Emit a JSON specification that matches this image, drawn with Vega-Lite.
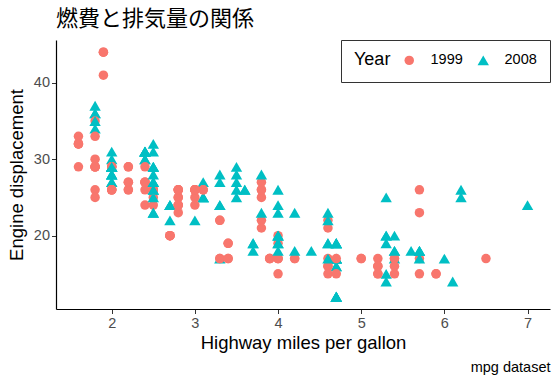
{
"$schema": "https://vega.github.io/schema/vega-lite/v6.json",
"width": 494, "height": 269,
"autosize": "none",
"padding": {"left": 56, "top": 40, "right": 9, "bottom": 76},
"background": "white",
"title": {"text": "燃費と排気量の関係", "anchor": "start", "frame": "group", "font": "Noto Sans CJK JP", "fontSize": 22, "fontWeight": "normal", "color": "#000000", "offset": 9},
"data": {"values": [
{"displ":1.8,"hwy":29,"year":1999},{"displ":1.8,"hwy":29,"year":1999},{"displ":2.0,"hwy":31,"year":2008},{"displ":2.0,"hwy":30,"year":2008},{"displ":2.8,"hwy":26,"year":1999},{"displ":2.8,"hwy":26,"year":1999},{"displ":3.1,"hwy":27,"year":2008},{"displ":1.8,"hwy":26,"year":1999},{"displ":1.8,"hwy":25,"year":1999},{"displ":2.0,"hwy":28,"year":2008},{"displ":2.0,"hwy":27,"year":2008},{"displ":2.8,"hwy":25,"year":1999},{"displ":2.8,"hwy":25,"year":1999},{"displ":3.1,"hwy":25,"year":2008},{"displ":3.1,"hwy":25,"year":2008},{"displ":2.8,"hwy":24,"year":1999},{"displ":3.1,"hwy":25,"year":2008},{"displ":4.2,"hwy":23,"year":2008},
{"displ":5.3,"hwy":20,"year":2008},{"displ":5.3,"hwy":15,"year":2008},{"displ":5.3,"hwy":20,"year":2008},{"displ":5.7,"hwy":17,"year":1999},{"displ":6.0,"hwy":17,"year":2008},{"displ":5.7,"hwy":26,"year":1999},{"displ":5.7,"hwy":23,"year":1999},{"displ":6.2,"hwy":26,"year":2008},{"displ":6.2,"hwy":25,"year":2008},{"displ":7.0,"hwy":24,"year":2008},{"displ":5.3,"hwy":19,"year":2008},{"displ":5.3,"hwy":14,"year":2008},{"displ":5.7,"hwy":15,"year":1999},{"displ":6.5,"hwy":17,"year":1999},{"displ":2.4,"hwy":27,"year":1999},{"displ":2.4,"hwy":30,"year":2008},{"displ":3.1,"hwy":26,"year":1999},{"displ":3.5,"hwy":29,"year":2008},{"displ":3.6,"hwy":26,"year":2008},
{"displ":2.4,"hwy":24,"year":1999},{"displ":3.0,"hwy":24,"year":1999},{"displ":3.3,"hwy":22,"year":1999},{"displ":3.3,"hwy":22,"year":1999},{"displ":3.3,"hwy":24,"year":2008},{"displ":3.3,"hwy":24,"year":2008},{"displ":3.3,"hwy":17,"year":2008},{"displ":3.8,"hwy":22,"year":1999},{"displ":3.8,"hwy":21,"year":1999},{"displ":3.8,"hwy":23,"year":2008},{"displ":4.0,"hwy":23,"year":2008},
{"displ":3.7,"hwy":19,"year":2008},{"displ":3.7,"hwy":18,"year":2008},{"displ":3.9,"hwy":17,"year":1999},{"displ":3.9,"hwy":17,"year":1999},{"displ":4.7,"hwy":19,"year":2008},{"displ":4.7,"hwy":19,"year":2008},{"displ":4.7,"hwy":12,"year":2008},{"displ":5.2,"hwy":17,"year":1999},{"displ":5.2,"hwy":15,"year":1999},
{"displ":3.9,"hwy":17,"year":1999},{"displ":4.7,"hwy":17,"year":2008},{"displ":4.7,"hwy":12,"year":2008},{"displ":4.7,"hwy":17,"year":2008},{"displ":5.2,"hwy":16,"year":1999},{"displ":5.7,"hwy":18,"year":2008},{"displ":5.9,"hwy":15,"year":1999},
{"displ":4.7,"hwy":16,"year":2008},{"displ":4.7,"hwy":12,"year":2008},{"displ":4.7,"hwy":17,"year":2008},{"displ":4.7,"hwy":17,"year":2008},{"displ":4.7,"hwy":16,"year":2008},{"displ":4.7,"hwy":12,"year":2008},{"displ":5.2,"hwy":15,"year":1999},{"displ":5.2,"hwy":16,"year":1999},{"displ":5.7,"hwy":17,"year":2008},{"displ":5.9,"hwy":15,"year":1999},
{"displ":4.6,"hwy":17,"year":1999},{"displ":5.4,"hwy":17,"year":1999},{"displ":5.4,"hwy":18,"year":2008},
{"displ":4.0,"hwy":17,"year":1999},{"displ":4.0,"hwy":19,"year":1999},{"displ":4.0,"hwy":17,"year":1999},{"displ":4.0,"hwy":19,"year":2008},{"displ":4.6,"hwy":19,"year":2008},{"displ":5.0,"hwy":17,"year":1999},
{"displ":4.2,"hwy":17,"year":1999},{"displ":4.2,"hwy":17,"year":1999},{"displ":4.6,"hwy":16,"year":1999},{"displ":4.6,"hwy":16,"year":1999},{"displ":4.6,"hwy":17,"year":2008},{"displ":5.4,"hwy":15,"year":1999},{"displ":5.4,"hwy":17,"year":2008},
{"displ":3.8,"hwy":26,"year":1999},{"displ":3.8,"hwy":25,"year":1999},{"displ":4.0,"hwy":26,"year":2008},{"displ":4.0,"hwy":24,"year":2008},{"displ":4.6,"hwy":21,"year":1999},{"displ":4.6,"hwy":22,"year":1999},{"displ":4.6,"hwy":23,"year":2008},{"displ":4.6,"hwy":22,"year":2008},{"displ":5.4,"hwy":20,"year":2008},
{"displ":1.6,"hwy":33,"year":1999},{"displ":1.6,"hwy":32,"year":1999},{"displ":1.6,"hwy":32,"year":1999},{"displ":1.6,"hwy":29,"year":1999},{"displ":1.6,"hwy":32,"year":1999},{"displ":1.8,"hwy":34,"year":2008},{"displ":1.8,"hwy":36,"year":2008},{"displ":1.8,"hwy":36,"year":2008},{"displ":2.0,"hwy":29,"year":2008},
{"displ":2.4,"hwy":26,"year":1999},{"displ":2.4,"hwy":27,"year":1999},{"displ":2.4,"hwy":30,"year":2008},{"displ":2.4,"hwy":31,"year":2008},{"displ":2.5,"hwy":26,"year":1999},{"displ":2.5,"hwy":26,"year":1999},{"displ":3.3,"hwy":28,"year":2008},{"displ":2.0,"hwy":26,"year":1999},{"displ":2.0,"hwy":29,"year":1999},{"displ":2.0,"hwy":28,"year":2008},{"displ":2.0,"hwy":27,"year":2008},{"displ":2.7,"hwy":24,"year":2008},{"displ":2.7,"hwy":24,"year":2008},{"displ":2.7,"hwy":24,"year":2008},
{"displ":3.0,"hwy":22,"year":2008},{"displ":3.7,"hwy":19,"year":2008},{"displ":4.0,"hwy":20,"year":1999},{"displ":4.7,"hwy":17,"year":1999},{"displ":4.7,"hwy":12,"year":2008},{"displ":4.7,"hwy":19,"year":2008},{"displ":5.7,"hwy":18,"year":2008},{"displ":6.1,"hwy":14,"year":2008},
{"displ":4.0,"hwy":15,"year":1999},{"displ":4.2,"hwy":18,"year":2008},{"displ":4.4,"hwy":18,"year":2008},{"displ":4.6,"hwy":15,"year":1999},
{"displ":5.4,"hwy":17,"year":1999},{"displ":5.4,"hwy":16,"year":1999},{"displ":5.4,"hwy":18,"year":2008},
{"displ":4.0,"hwy":17,"year":1999},{"displ":4.0,"hwy":19,"year":2008},{"displ":4.6,"hwy":19,"year":2008},{"displ":5.0,"hwy":17,"year":1999},
{"displ":2.4,"hwy":29,"year":1999},{"displ":2.4,"hwy":27,"year":1999},{"displ":2.5,"hwy":31,"year":2008},{"displ":2.5,"hwy":32,"year":2008},{"displ":3.5,"hwy":27,"year":2008},{"displ":3.5,"hwy":26,"year":2008},{"displ":3.0,"hwy":26,"year":1999},{"displ":3.0,"hwy":25,"year":1999},{"displ":3.5,"hwy":25,"year":2008},{"displ":3.3,"hwy":17,"year":1999},{"displ":3.3,"hwy":17,"year":1999},{"displ":4.0,"hwy":20,"year":2008},{"displ":5.6,"hwy":18,"year":2008},
{"displ":3.1,"hwy":26,"year":1999},{"displ":3.8,"hwy":26,"year":1999},{"displ":3.8,"hwy":27,"year":1999},{"displ":3.8,"hwy":28,"year":2008},{"displ":5.3,"hwy":25,"year":2008},
{"displ":2.5,"hwy":25,"year":1999},{"displ":2.5,"hwy":24,"year":1999},{"displ":2.5,"hwy":27,"year":2008},{"displ":2.5,"hwy":25,"year":2008},{"displ":2.5,"hwy":26,"year":2008},{"displ":2.5,"hwy":23,"year":2008},{"displ":2.2,"hwy":26,"year":1999},{"displ":2.2,"hwy":26,"year":1999},{"displ":2.5,"hwy":26,"year":1999},{"displ":2.5,"hwy":26,"year":1999},{"displ":2.5,"hwy":27,"year":2008},{"displ":2.5,"hwy":23,"year":2008},{"displ":2.5,"hwy":27,"year":2008},{"displ":2.5,"hwy":26,"year":2008},
{"displ":2.7,"hwy":20,"year":1999},{"displ":2.7,"hwy":20,"year":1999},{"displ":3.4,"hwy":19,"year":1999},{"displ":3.4,"hwy":17,"year":1999},{"displ":4.0,"hwy":20,"year":2008},{"displ":4.7,"hwy":19,"year":2008},
{"displ":2.2,"hwy":29,"year":1999},{"displ":2.2,"hwy":27,"year":1999},{"displ":2.4,"hwy":31,"year":2008},{"displ":2.4,"hwy":31,"year":2008},{"displ":3.0,"hwy":26,"year":1999},{"displ":3.0,"hwy":26,"year":1999},{"displ":3.5,"hwy":28,"year":2008},
{"displ":2.2,"hwy":27,"year":1999},{"displ":2.2,"hwy":29,"year":1999},{"displ":2.4,"hwy":31,"year":2008},{"displ":2.4,"hwy":31,"year":2008},{"displ":3.0,"hwy":26,"year":1999},{"displ":3.0,"hwy":26,"year":1999},{"displ":3.3,"hwy":27,"year":2008},
{"displ":1.8,"hwy":30,"year":1999},{"displ":1.8,"hwy":33,"year":1999},{"displ":1.8,"hwy":35,"year":1999},{"displ":1.8,"hwy":37,"year":2008},{"displ":1.8,"hwy":35,"year":2008},
{"displ":4.7,"hwy":15,"year":1999},{"displ":5.7,"hwy":18,"year":2008},
{"displ":2.7,"hwy":20,"year":1999},{"displ":2.7,"hwy":20,"year":1999},{"displ":2.7,"hwy":22,"year":2008},{"displ":3.4,"hwy":17,"year":1999},{"displ":3.4,"hwy":19,"year":1999},{"displ":4.0,"hwy":18,"year":2008},{"displ":4.0,"hwy":20,"year":2008},
{"displ":2.0,"hwy":29,"year":1999},{"displ":2.0,"hwy":26,"year":1999},{"displ":2.0,"hwy":29,"year":2008},{"displ":2.0,"hwy":29,"year":2008},{"displ":2.8,"hwy":24,"year":1999},
{"displ":1.9,"hwy":44,"year":1999},{"displ":2.0,"hwy":29,"year":1999},{"displ":2.0,"hwy":26,"year":1999},{"displ":2.0,"hwy":29,"year":2008},{"displ":2.0,"hwy":29,"year":2008},{"displ":2.5,"hwy":29,"year":2008},{"displ":2.5,"hwy":29,"year":2008},{"displ":2.8,"hwy":23,"year":1999},{"displ":2.8,"hwy":24,"year":1999},
{"displ":1.9,"hwy":44,"year":1999},{"displ":1.9,"hwy":41,"year":1999},{"displ":2.0,"hwy":29,"year":1999},{"displ":2.0,"hwy":26,"year":1999},{"displ":2.5,"hwy":28,"year":2008},{"displ":2.5,"hwy":29,"year":2008},
{"displ":1.8,"hwy":29,"year":1999},{"displ":1.8,"hwy":29,"year":1999},{"displ":2.0,"hwy":28,"year":2008},{"displ":2.0,"hwy":29,"year":2008},{"displ":2.8,"hwy":26,"year":1999},{"displ":2.8,"hwy":26,"year":1999},{"displ":3.6,"hwy":26,"year":2008}
]},
"layer": [
{"mark": {"type": "point", "filled": true, "opacity": 1},
 "encoding": {
  "x": {"field": "displ", "type": "quantitative", "scale": {"domain": [1.33, 7.27], "nice": false, "zero": false},
        "axis": {"title": "Highway miles per gallon", "values": [2, 3, 4, 5, 6, 7], "labelPadding": 3, "titlePadding": 3}},
  "y": {"field": "hwy", "type": "quantitative", "scale": {"domain": [10.4, 45.6], "nice": false, "zero": false},
        "axis": {"title": "Engine displacement", "values": [20, 30, 40], "labelPadding": 2, "titlePadding": 7}},
  "color": {"field": "year", "type": "nominal", "scale": {"range": ["#F8766D", "#00BFC4"]},
        "legend": {"title": "Year", "orient": "top-right", "direction": "horizontal", "titleOrient": "left", "offset": 0}},
  "shape": {"field": "year", "type": "nominal", "scale": {"range": ["circle", "triangle-up"]},
        "legend": {"title": "Year", "orient": "top-right", "direction": "horizontal", "titleOrient": "left", "offset": 0}},
  "size": {"field": "year", "type": "nominal", "scale": {"range": [90, 130]},
        "legend": {"title": "Year", "orient": "top-right", "direction": "horizontal", "titleOrient": "left", "offset": 0}}
 }},
{"mark": {"type": "point", "opacity": 0},
 "encoding": {
  "x": {"field": "displ", "type": "quantitative", "scale": {"domain": [1.33, 7.27], "nice": false, "zero": false},
        "axis": {"orient": "bottom", "title": "mpg dataset", "titleAnchor": "end", "labels": false, "ticks": false, "domain": false, "titleFontSize": 14.5, "titlePadding": 0, "offset": 51}}
 }}
],
"resolve": {"axis": {"x": "independent"}},
"config": {
 "font": "Liberation Sans",
 "view": {"stroke": null},
 "axis": {"grid": false, "domainColor": "#000000", "domainWidth": 1.2, "tickColor": "#333333", "tickSize": 4.5, "labelColor": "#4D4D4D", "labelFontSize": 14.5, "labelFont": "Liberation Sans", "titleFont": "Liberation Sans", "titleFontSize": 18.5, "titleFontWeight": "normal", "titleColor": "#000000"},
 "legend": {"strokeColor": "#333333", "fillColor": "white", "padding": 13, "titleFontSize": 18, "titleFontWeight": "normal", "titleColor": "#000000", "titleFont": "Liberation Sans", "labelFont": "Liberation Sans", "labelFontSize": 14.5, "labelColor": "#000000", "titlePadding": 11, "columnPadding": 13, "labelOffset": 14}
}
}
